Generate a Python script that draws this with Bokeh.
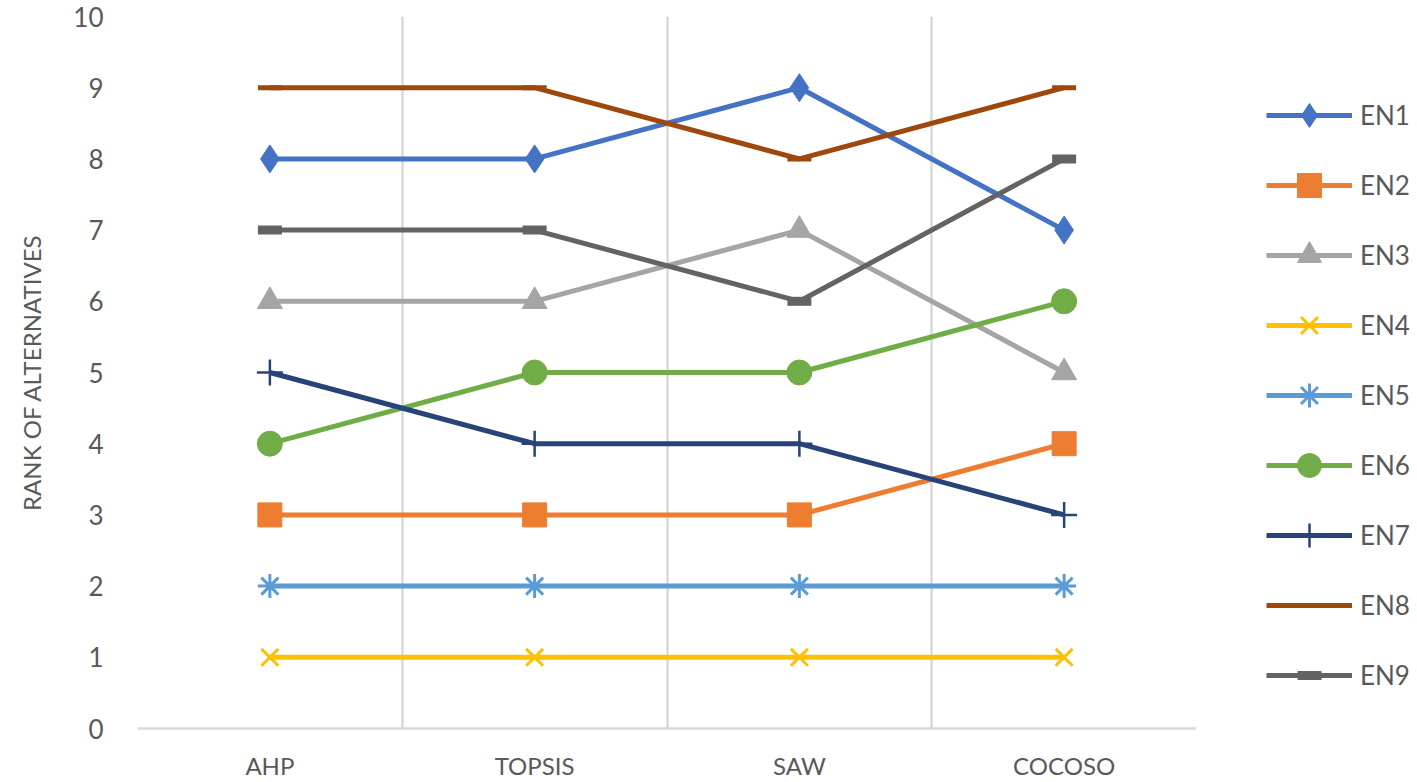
from bokeh.plotting import figure
from bokeh.layouts import row
from bokeh.models import FixedTicker, Legend, LegendItem, Range1d
from bokeh.embed import file_html
from bokeh.resources import INLINE

categories = ["AHP", "TOPSIS", "SAW", "COCOSO"]
series_names = ["EN1", "EN2", "EN3", "EN4", "EN5", "EN6", "EN7", "EN8", "EN9"]
EN1 = [8, 8, 9, 7]
EN2 = [3, 3, 3, 4]
EN3 = [6, 6, 7, 5]
EN4 = [1, 1, 1, 1]
EN5 = [2, 2, 2, 2]
EN6 = [4, 5, 5, 6]
EN7 = [5, 4, 4, 3]
EN8 = [9, 9, 8, 9]
EN9 = [7, 7, 6, 8]
values = [EN1, EN2, EN3, EN4, EN5, EN6, EN7, EN8, EN9]
y_ticks = [0, 1, 2, 3, 4, 5, 6, 7, 8, 9, 10]

colors = ["#4472C4", "#ED7D31", "#A5A5A5", "#FFC000", "#5B9BD5",
          "#70AD47", "#264478", "#9E480E", "#636363"]
markers = ["diamond", "square", "triangle", "x", "asterisk",
           "circle", "cross", "dash", "dash"]
msizes = [28, 24, 25, 24, 24, 25, 26, 24, 24]
mlw = [1, 1, 1, 3, 3, 1, 2.5, 5, 9]

FONT = "Lato"
TXT = "#595959"
GRID = "#D9D9D9"

xs = [i + 0.5 for i in range(len(categories))]

H = 782
LEFT, TOP, BOTTOM = 137, 16, 54
P_W = 1196
LEG_W = 1417 - P_W

p = figure(width=P_W, height=H, output_backend="svg", toolbar_location=None,
           x_range=Range1d(0, len(categories)), y_range=Range1d(0, 10),
           min_border_left=LEFT, min_border_right=0, min_border_top=TOP,
           min_border_bottom=BOTTOM)
p.outline_line_color = None
p.background_fill_color = "white"
p.border_fill_color = "white"

p.xaxis.ticker = FixedTicker(ticks=xs)
p.xaxis.major_label_overrides = {x: c for x, c in zip(xs, categories)}
p.xaxis.major_tick_line_color = None
p.xaxis.minor_tick_line_color = None
p.xaxis.major_tick_in = 0
p.xaxis.major_tick_out = 0
p.xaxis.axis_line_color = GRID
p.xaxis.axis_line_width = 2.5
p.xaxis.major_label_text_font = FONT
p.xaxis.major_label_text_font_size = "24px"
p.xaxis.major_label_text_color = TXT
p.xaxis.major_label_standoff = 22

p.yaxis.ticker = FixedTicker(ticks=y_ticks)
p.yaxis.major_tick_line_color = None
p.yaxis.minor_tick_line_color = None
p.yaxis.major_tick_in = 0
p.yaxis.major_tick_out = 0
p.yaxis.axis_line_color = None
p.yaxis.major_label_text_font = FONT
p.yaxis.major_label_text_font_size = "26px"
p.yaxis.major_label_text_color = TXT
p.yaxis.major_label_standoff = 34
p.yaxis.axis_label = "RANK OF ALTERNATIVES"
p.yaxis.axis_label_text_font = FONT
p.yaxis.axis_label_text_font_style = "normal"
p.yaxis.axis_label_text_font_size = "24px"
p.yaxis.axis_label_text_color = TXT
p.yaxis.axis_label_standoff = 24

p.ygrid.grid_line_color = None
p.xgrid.ticker = FixedTicker(ticks=list(range(len(categories) + 1)))
p.xgrid.grid_line_color = GRID
p.xgrid.grid_line_width = 2.5

for vals, c, m, s, lw in zip(values, colors, markers, msizes, mlw):
    p.line(xs, vals, line_color=c, line_width=5)
    p.scatter(xs, vals, marker=m, size=s, fill_color=c, line_color=c, line_width=lw)

# legend panel: same series drawn out of view, legend only
q = figure(width=LEG_W, height=H, output_backend="svg", toolbar_location=None,
           x_range=Range1d(100, 101), y_range=Range1d(100, 101),
           x_axis_location=None, y_axis_location=None,
           min_border_left=0, min_border_right=0, min_border_top=TOP,
           min_border_bottom=BOTTOM)
q.grid.visible = False
q.outline_line_color = None
q.background_fill_color = "white"
q.border_fill_color = "white"

items = []
for name, vals, c, m, lw in zip(series_names, values, colors, markers, mlw):
    r1 = q.line(xs, vals, line_color=c, line_width=5)
    r2 = q.scatter(xs, vals, marker=m, size=20, fill_color=c, line_color=c, line_width=lw)
    items.append(LegendItem(label=name, renderers=[r1, r2]))

legend = Legend(items=items, location=(70, 23), orientation="vertical",
                glyph_width=86, glyph_height=60, label_height=30, spacing=10,
                padding=0, margin=0, label_standoff=8,
                label_text_font=FONT, label_text_font_size="26px",
                label_text_color=TXT, border_line_color=None,
                background_fill_alpha=0)
q.add_layout(legend, "center")

layout = row(p, q, spacing=0)
open("out.html", "w").write(file_html(layout, INLINE))
